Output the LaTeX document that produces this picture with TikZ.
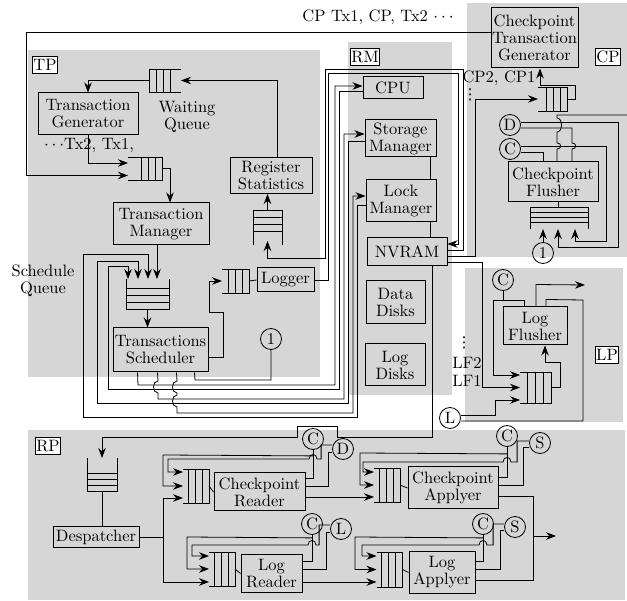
\documentclass[tikz,border=0pt]{standalone}
\usepackage{fontspec}
\setmainfont{lmroman10-regular}[Extension=.otf]
\newfontfamily\symfont{DejaVu Sans}
\usetikzlibrary{arrows.meta,calc}
% queues: the open side is named
\newcommand\qleft[2][7]{%
  \draw (#2.north west) -- (#2.north east) -- (#2.south east) -- (#2.south west);
  \foreach \i in {1,2,3}
    \draw ($(#2.north east)+(-\i*#1,0)$) -- ($(#2.south east)+(-\i*#1,0)$);}
\newcommand\qright[2][7]{%
  \draw (#2.north east) -- (#2.north west) -- (#2.south west) -- (#2.south east);
  \foreach \i in {1,2,3}
    \draw ($(#2.north west)+(\i*#1,0)$) -- ($(#2.south west)+(\i*#1,0)$);}
\newcommand\qup[2][7]{%
  \draw (#2.north west) -- (#2.south west) -- (#2.south east) -- (#2.north east);
  \foreach \i in {1,2,3}
    \draw ($(#2.south west)+(0,-\i*#1)$) -- ($(#2.south east)+(0,-\i*#1)$);}
\newcommand\qdown[2][7]{%
  \draw (#2.south west) -- (#2.north west) -- (#2.north east) -- (#2.south east);
  \foreach \i in {1,2,3}
    \draw ($(#2.north west)+(0,\i*#1)$) -- ($(#2.north east)+(0,\i*#1)$);}
\begin{document}
\begin{tikzpicture}[x=1pt,y=-1pt,line width=0.8pt,font=\fontsize{16.5}{17}\selectfont,
	reg/.style={fill=black!16,draw=none},
	b/.style={draw,line width=1pt,align=center,inner sep=0.5pt},
	q/.style={inner sep=0pt,outer sep=0pt},
	cn/.style={draw,circle,minimum size=21pt,inner sep=0pt},
	lab/.style={draw,fill=white,inner sep=1pt,minimum height=17pt},
	vd/.style={inner sep=0pt,font=\symfont\fontsize{15}{15}\selectfont},
	arr/.style={-{Stealth[length=10pt,width=7.5pt]}}]
	\useasboundingbox (0,0) rectangle (627,601);
	% regions
	\fill[reg] (28,50) rectangle (320,377);
	\fill[reg] (348,42) rectangle (452,395);
	\fill[reg] (467,3) rectangle (627,257);
	\fill[reg] (465,268) rectangle (623,422);
	\fill[reg] (28,430) rectangle (625,600);
	\node[lab] (tpl) at (45,65) {TP};
	\node[lab] (rml) at (365,57) {RM};
	\node[lab] (cpl) at (608,57) {CP};
	\node[lab] (lpl) at (607,355) {LP};
	\node[lab] (rpl) at (48,446) {RP};

	% TP
	\node[b,minimum width=100pt,minimum height=42pt] (tg) at (88,114) {Transaction\\Generator};
	\node[q,minimum width=32pt,minimum height=23pt] (wq) at (165,80.5) {}; \qright{wq}
	\node[align=center] (wqt) at (187,117) {Waiting\\Queue};
	\node (txs) at (89,146) {$\cdots$Tx2, Tx1,};
	\node[q,minimum width=34pt,minimum height=23pt] (tq) at (145,168.5) {}; \qleft{tq}
	\node[b,minimum width=96pt,minimum height=42pt] (tm) at (161,224) {Transaction\\Manager};
	\node[b,minimum width=82pt,minimum height=36pt] (rs) at (271,175.5) {Register\\Statistics};
	\node[q,minimum width=29pt,minimum height=35pt] (rsq) at (267.5,227.5) {}; \qdown{rsq}
	\node[q,minimum width=43pt,minimum height=30pt] (sq) at (147.5,294) {}; \qup{sq}
	\node[align=center] (sqt) at (43,281) {Schedule\\Queue};
	\node[b,minimum width=95pt,minimum height=44pt] (ts) at (160.5,350) {Transactions\\Scheduler};
	\node[q,minimum width=27pt,minimum height=24pt] (lq) at (235.5,281) {}; \qleft{lq}
	\node[b,minimum width=57pt,minimum height=24pt] (lg) at (285.5,280) {Logger};
	\node[cn] (c1) at (271,339) {1};

	% RM
	\node[b,minimum width=60pt,minimum height=22pt] (cpu) at (393,88) {CPU};
	\node[b,minimum width=71pt,minimum height=37pt] (sm) at (400.5,138.5) {Storage\\Manager};
	\node[b,minimum width=70pt,minimum height=42pt] (lm) at (401,201) {Lock\\Manager};
	\node[b,minimum width=80pt,minimum height=28pt] (nv) at (407,252) {NVRAM};
	\node[b,minimum width=59pt,minimum height=43pt] (dd) at (395.5,302.5) {Data\\Disks};
	\node[b,minimum width=60pt,minimum height=42pt] (ld) at (395,365) {Log\\Disks};

	% CP
	\node[b,minimum width=87pt,minimum height=60pt] (ctg) at (534.5,38) {Checkpoint\\Transaction\\Generator};
	\node[q,minimum width=29pt,minimum height=24pt] (cpq) at (552.5,99) {}; \qleft{cpq}
	\node[inner sep=1pt] (cpt) at (499,78) {CP2, CP1};
	\node[vd] (cpd) at (470,95) {⋮};
	\node (cptx) at (378,17) {CP Tx1, CP, Tx2 $\cdots$};
	\node[cn] (cD) at (510,125) {D};
	\node[cn] (cC) at (510,149) {C};
	\node[b,minimum width=90pt,minimum height=40pt] (cf) at (553,182) {Checkpoint\\Flusher};
	\node[q,minimum width=58pt,minimum height=22pt] (cfq) at (559,218) {}; \qdown[5]{cfq}
	\node[cn] (c1b) at (543,253) {1};
	\coordinate (cpout) at (627,115);

	% LP
	\node[cn] (lC) at (503,280) {C};
	\node[b,minimum width=64pt,minimum height=38pt] (lf) at (535,326) {Log\\Flusher};
	\node[q,minimum width=31pt,minimum height=31pt] (lfq) at (535.5,387.5) {}; \qleft[8]{lfq}
	\node[vd] (lfd) at (464,343) {⋮};
	\node[inner sep=1pt] (lf2) at (467,363) {LF2};
	\node[inner sep=1pt] (lf1) at (467,381) {LF1};
	\node[cn] (lL) at (450,418) {L};
	\coordinate (lpout) at (585,285);

	% RP
	\node[q,minimum width=30pt,minimum height=33pt] (rq) at (102,474.5) {}; \qup[6]{rq}
	\node[b,minimum width=86pt,minimum height=21pt] (dp) at (96,537.5) {Despatcher};
	\node[q,minimum width=26pt,minimum height=34pt] (crq) at (196,486) {}; \qleft{crq}
	\node[b,minimum width=91pt,minimum height=38pt] (cr) at (259.5,492) {Checkpoint\\Reader};
	\node[cn] (cC1) at (313,439) {C};
	\node[cn] (cD1) at (343,449) {D};
	\node[q,minimum width=26pt,minimum height=34pt] (lrq) at (222,569) {}; \qleft{lrq}
	\node[b,minimum width=61pt,minimum height=37pt] (lr) at (271.5,573.5) {Log\\Reader};
	\node[cn] (cC2) at (312,524) {C};
	\node[cn] (cL2) at (341,529) {L};
	\node[q,minimum width=26pt,minimum height=34pt] (caq) at (387,485) {}; \qleft{caq}
	\node[b,minimum width=90pt,minimum height=42pt] (ca) at (453,488) {Checkpoint\\Applyer};
	\node[cn] (cC3) at (507,436) {C};
	\node[cn] (cS3) at (540,443) {S};
	\node[q,minimum width=26pt,minimum height=35pt] (laq) at (389.5,569.5) {}; \qleft{laq}
	\node[b,minimum width=66pt,minimum height=41pt] (la) at (442,572.5) {Log\\Applyer};
	\node[cn] (cC4) at (483,524) {C};
	\node[cn] (cS4) at (515,527) {S};
	\coordinate (rpj) at (533,536);
	\coordinate (rpout) at (556,536);

	% TP wiring
	\draw[arr] ($(rs.north)+(6,0)$) |- (wq.east);
	\draw[arr] (wq.west) -| (tg.north);
	\draw[arr] (tg.south) |- ($(tq.west)+(0,-5.5)$);
	\draw[arr] ($(ctg.west)+(0,-6)$) -- (26,32) |- ($(tq.west)+(0,7)$);
	\draw[arr] (tq.east) -| ($(tm.north)+(9,0)$);
	\draw[arr] ($(tm.south)+(-4,0)$) -- ($(sq.north)+(9.5,0)$);
	\draw[arr] (sq.south) -- (sq.south |- ts.north);
	\draw[arr] ($(ts.east)+(0,7)$) -- ++(15,0) -- ++(0,-45) -- ++(-14,0) |- (lq.west);
	\draw (lq.east) -- (lg.west);
	\draw[arr] (rsq.north) -- (rsq.north |- rs.south);
	\draw[arr] (lg.east) -- (328,280) -- (328,73) -- (458,73) |- ($(nv.east)+(0,-8)$);
	\draw[arr] ($(nv.east)+(0,-2)$) -- (463,250) -- (463,69) -- (325,69) -- (325,258) -| ($(rsq.south)+(0,-4)$);

	% scheduler to the resources and back
	\draw[arr] ($(ts.south west)+(25,0)$) -- (138,385) -- (335,385) -- (335,86) -- ($(cpu.west)+(0,-2)$);
	\draw[arr] ($(cpu.west)+(0,3)$) -- (339,91) -- (339,389) -- (108,389) -- (108,266) -| ($(sq.north)+(-19.5,0)$);
	\draw[arr] ($(ts.south west)+(45,0)$) -- (158,381) .. controls (152,381) and (152,393) .. (158,393)
		-- (158,399) -- (344,399) -- (344,134) -- ($(sm.west)+(0,-4.5)$);
	\draw[arr] ($(sm.west)+(0,2.5)$) -- (348,141) -- (348,403) -- (97,403) -- (97,261) -| ($(sq.north)+(-9.5,0)$);
	\draw[arr] ($(ts.south west)+(64,0)$) -- (177,381) .. controls (171,381) and (171,393) .. (177,393)
		-- (177,395) .. controls (171,395) and (171,407) .. (177,407)
		-- (177,413) -- (353,413) -- (353,196) -- ($(lm.west)+(0,-5)$);
	\draw[arr] ($(lm.west)+(0,4)$) -- (357,205) -- (357,417) -- (83,417) -- (83,254) -| ($(sq.north)+(0.5,0)$);
	\draw ($(ts.south west)+(82,0)$) -- (195,380) -| (c1.south);

	% RM wiring
	\draw ($(sm.south)+(30,0)$) -- ++(0,23);
	\draw ($(lm.south)+(29,0)$) -- ++(0,16);
	\draw[arr] ($(nv.east)+(0,4)$) -- (475,256) |- (cpq.west);
	\draw[arr] ($(nv.east)+(0,10)$) -- (482,262) |- (lfq.west);
	\draw[arr] ($(nv.south)+(25,0)$) -- (432,437) -- (337,437) -- (337,426) -- (297,426) -- (297,437) -| (rq.north);

	% CP wiring
	\draw[arr] (cpq.east) -- ++(8,0) -- ++(0,-14) -| ($(ctg.south)+(5.5,0)$);
	\draw ($(cC.east)+(0,3)$) -| ($(cf.north)+(-10,0)$);
	\draw[arr] ($(cC.east)+(0,-3)$) -- (606,146) -- (606,241) -| ($(cfq.south)+(16,0)$);
	\draw[arr] ($(cD.east)+(0,-3)$) -- (618,122) -- (618,247) -| ($(cfq.south)+(-1,0)$);
	\draw ($(cD.east)+(0,3)$) -- (572,128) -- (572,143) .. controls (577,143) and (577,149) .. (572,149) -- ($(cf.north)+(19,0)$);
	\draw ($(cf.north)+(4,0)$) -- (557,149) .. controls (562,149) and (562,143) .. (557,143)
		-- (557,132) .. controls (563,132) and (563,118) .. (557,118) -- (557,115) -- (cpout);
	\draw[arr] (c1b.north) -- ($(cfq.south)+(-16,0)$);
	\draw ($(cf.south)+(5,0)$) -- ($(cfq.north)+(-1,0)$);

	% LP wiring
	\draw (lC.south) -- ++(0,10) -| ($(lf.north)+(-11,0)$);
	\draw[arr] ($(lC.south)+(0,10)$) -- ++(-10,0) |- ($(lfq.west)+(0,-12.5)$);
	\draw[arr] ($(lf.north)+(1,0)$) -- ++(0,-22) -- (lpout);
	\draw ($(lf.north)+(11,0)$) -- ++(0,-7) -- (583,300) |- ($(lL.east)+(0,3)$);
	\draw[arr] ($(lL.east)+(0,-3)$) -- (495,415) |- ($(lfq.west)+(0,12.5)$);
	\draw[arr] (lfq.east) -- ++(9,0) |- ($(lf.south)+(10,17)$) -- ($(lf.south)+(10,0)$);

	% RP wiring
	\draw (rq.south) -- (rq.south |- dp.north);
	\draw[arr] (dp.east) -- (163,537.5) |- ($(crq.west)+(0,12)$);
	\draw[arr] (163,537.5) |- ($(lrq.west)+(0,13)$);
	% checkpoint reader
	\draw (crq.east) -- (cr.west);
	\draw ($(cr.east)+(0,-14)$) -| (cC1.south);
	\draw ($(cr.east)+(0,-6)$) -- ++(23,0) |- ($(cD1.west)+(0,3)$);
	\draw[arr] ($(cD1.west)+(0,-4)$) -- ++(-11,0) -- ++(0,14) -- (317,459) .. controls (317,453) and (309,453) .. (309,459)
		-- (168,459) |- ($(crq.west)+(0,-14)$);
	\draw[arr] ($(cC1.south)+(0,6)$) -- (163,455) |- (crq.west);
	\draw[arr] ($(cr.east)+(0,5)$) -- ($(caq.west)+(0,12)$);
	% log reader
	\draw (lrq.east) -- (lr.west);
	\draw ($(lr.east)+(0,-12.5)$) -| (cC2.south);
	\draw ($(lr.east)+(0,-4.5)$) -- ++(24,0) |- ($(cL2.west)+(0,3)$);
	\draw[arr] ($(cL2.west)+(0,-4)$) -- ++(-11,0) -- ++(0,20) -- (316,545) .. controls (316,539) and (308,539) .. (308,545)
		-- (192,545) |- ($(lrq.west)+(0,-13)$);
	\draw[arr] ($(cC2.south)+(0,3)$) -- (187,537) |- (lrq.west);
	\draw[arr] ($(lr.east)+(0,8.5)$) -- ($(laq.west)+(0,12.5)$);
	% checkpoint applyer
	\draw (caq.east) -- (ca.west);
	\draw ($(ca.east)+(0,-11)$) -| (cC3.south);
	\draw ($(ca.east)+(0,-3)$) -- ++(25,0) |- ($(cS3.west)+(0,4)$);
	\draw[arr] ($(cS3.west)+(0,-2)$) -- ++(-12,0) -- ++(0,21) -- (511,462) .. controls (511,456) and (503,456) .. (503,462)
		-- (363,462) |- ($(caq.west)+(0,-13)$);
	\draw[arr] ($(cC3.south)+(0,7)$) -- (360,453) |- (caq.west);
	% log applyer
	\draw (laq.east) -- (la.west);
	\draw ($(la.east)+(0,-11.5)$) -| (cC4.south);
	\draw ($(la.east)+(0,-3.5)$) -- ++(25,0) |- ($(cS4.west)+(0,3)$);
	\draw[arr] ($(cS4.west)+(0,-3)$) -- ++(-11,0) -- ++(0,21) -- (487,545) .. controls (487,539) and (479,539) .. (479,545)
		-- (362,545) |- ($(laq.west)+(0,-13.5)$);
	\draw[arr] ($(cC4.south)+(0,3)$) -- (355,537) |- (laq.west);
	% applied output
	\draw ($(ca.east)+(0,8)$) -| (rpj);
	\draw ($(la.east)+(0,7.5)$) -| (rpj);
	\draw[arr] (rpj) -- (rpout);
\end{tikzpicture}
\end{document}
